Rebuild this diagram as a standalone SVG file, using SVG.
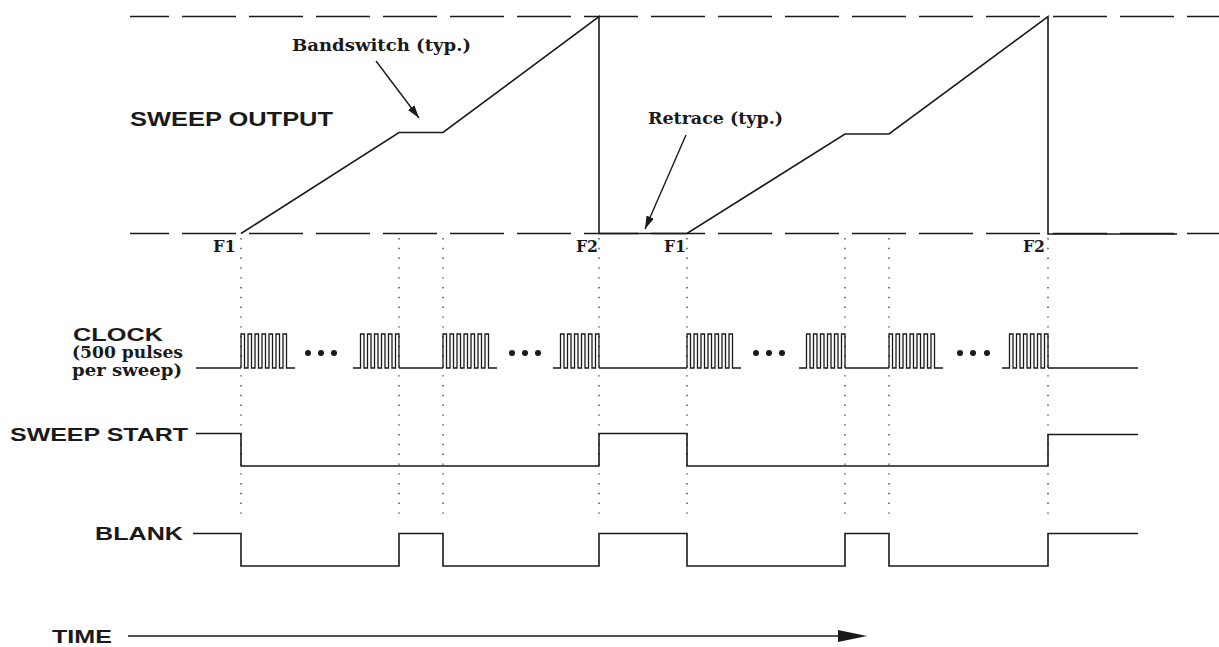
<svg xmlns="http://www.w3.org/2000/svg" width="1219" height="647" viewBox="0 0 1219 647">
<style>
.sig{fill:none;stroke:#1a1a1a;stroke-width:1.6;stroke-linejoin:miter}
.clk{fill:none;stroke:#1a1a1a;stroke-width:1.3;stroke-linejoin:miter}
.dash{fill:none;stroke:#1a1a1a;stroke-width:1.6;stroke-dasharray:54 13;stroke-dashoffset:15}
.dot{fill:none;stroke:#444;stroke-width:1.4;stroke-dasharray:1.4 8.4}
.lab{font-family:"Liberation Sans",Arial,sans-serif;font-weight:bold;fill:#1a1a1a}
.ser{font-family:"DejaVu Serif","Liberation Serif",serif;font-weight:bold;fill:#1a1a1a}
.ann{fill:none;stroke:#1a1a1a;stroke-width:1.4}
</style>
<defs>
<marker id="ah" markerUnits="userSpaceOnUse" markerWidth="14" markerHeight="8" refX="13" refY="4" orient="auto">
<path d="M0,0 L13,4 L0,8 z" fill="#1a1a1a"/>
</marker>
<path id="burstA" d="M0,34 V0 H3.5 V34 H7 V0 H10.5 V34 H14 V0 H17.5 V34 H21 V0 H24.5 V34 H28 V0 H31.5 V34 H35 V0 H38.5 V34 H42 V0 H45.5 V34 H54"/>
<path id="burstB" d="M-46,34 H-38.5 V0 H-35 V34 H-31.5 V0 H-28 V34 H-24.5 V0 H-21 V34 H-17.5 V0 H-14 V34 H-10.5 V0 H-7 V34 H-3.5 V0 H0 V34"/>
</defs>
<rect width="1219" height="647" fill="#fff"/>

<g id="gridlines">
<line class="dot" x1="241" y1="238" x2="241" y2="518"/>
<line class="dot" x1="399" y1="238" x2="399" y2="518"/>
<line class="dot" x1="443" y1="238" x2="443" y2="518"/>
<line class="dot" x1="599" y1="238" x2="599" y2="518"/>
<line class="dot" x1="687" y1="238" x2="687" y2="518"/>
<line class="dot" x1="845" y1="238" x2="845" y2="518"/>
<line class="dot" x1="889" y1="238" x2="889" y2="518"/>
<line class="dot" x1="1048" y1="238" x2="1048" y2="518"/>
</g>

<g id="sweep-output">
<line class="dash" x1="130" y1="16.5" x2="1219" y2="16.5"/>
<line class="dash" x1="130" y1="233.5" x2="1219" y2="233.5"/>
<path class="sig" d="M241,233.5 L399,132.5 H443 L599,16.5 V233.5 H687 L845,134 H889 L1048,16.5 V234 H1177"/>
<text class="lab" x="130" y="125.5" font-size="21" textLength="203" lengthAdjust="spacingAndGlyphs">SWEEP OUTPUT</text>
<text class="ser" x="292" y="51" font-size="17" textLength="179" lengthAdjust="spacingAndGlyphs">Bandswitch (typ.)</text>
<text class="ser" x="648" y="124" font-size="17" textLength="135" lengthAdjust="spacingAndGlyphs">Retrace (typ.)</text>
<text class="ser" x="213" y="252" font-size="16" textLength="23" lengthAdjust="spacingAndGlyphs">F1</text>
<text class="ser" x="576" y="252" font-size="16" textLength="22" lengthAdjust="spacingAndGlyphs">F2</text>
<text class="ser" x="664" y="252" font-size="16" textLength="22" lengthAdjust="spacingAndGlyphs">F1</text>
<text class="ser" x="1023" y="252" font-size="16" textLength="22" lengthAdjust="spacingAndGlyphs">F2</text>
</g>

<g id="annotations">
<line class="ann" x1="376" y1="61" x2="419" y2="118" marker-end="url(#ah)"/>
<line class="ann" x1="686" y1="135" x2="645" y2="229" marker-end="url(#ah)"/>
</g>

<g id="clock">
<text class="lab" x="73" y="340.5" font-size="17.5" textLength="90" lengthAdjust="spacingAndGlyphs">CLOCK</text>
<text class="ser" x="72" y="358" font-size="16" textLength="111" lengthAdjust="spacingAndGlyphs">(500 pulses</text>
<text class="ser" x="72" y="376" font-size="16" textLength="110" lengthAdjust="spacingAndGlyphs">per sweep)</text>
<path class="sig" d="M196,368 H241 M399,368 H443 M599,368 H687 M845,368 H889 M1048,368 H1138"/>
<use class="clk" href="#burstA" transform="translate(241,334)"/>
<use class="clk" href="#burstA" transform="translate(443,334)"/>
<use class="clk" href="#burstA" transform="translate(687,334)"/>
<use class="clk" href="#burstA" transform="translate(889,334)"/>
<use class="clk" href="#burstB" transform="translate(399,334)"/>
<use class="clk" href="#burstB" transform="translate(599,334)"/>
<use class="clk" href="#burstB" transform="translate(845,334)"/>
<use class="clk" href="#burstB" transform="translate(1048,334)"/>
<g fill="#1a1a1a">
<circle cx="308" cy="353" r="3"/><circle cx="321" cy="353" r="3"/><circle cx="334" cy="353" r="3"/>
<circle cx="512" cy="353" r="3"/><circle cx="525" cy="353" r="3"/><circle cx="538" cy="353" r="3"/>
<circle cx="756" cy="353" r="3"/><circle cx="769" cy="353" r="3"/><circle cx="782" cy="353" r="3"/>
<circle cx="960" cy="353" r="3"/><circle cx="973" cy="353" r="3"/><circle cx="987" cy="353" r="3"/>
</g>
</g>

<g id="sweep-start">
<text class="lab" x="10" y="441" font-size="18.5" textLength="178" lengthAdjust="spacingAndGlyphs">SWEEP START</text>
<path class="sig" d="M196,433.5 H241 V466 H599 V433.5 H687 V466 H1048 V434.5 H1138"/>
</g>

<g id="blank">
<text class="lab" x="95" y="540" font-size="18.5" textLength="88" lengthAdjust="spacingAndGlyphs">BLANK</text>
<path class="sig" d="M193,533.5 H241 V566 H399 V533.5 H443 V566 H599 V533.5 H687 V566 H845 V533.5 H889 V566 H1048 V533.5 H1138"/>
</g>

<g id="time">
<text class="lab" x="52" y="643" font-size="18.5" textLength="60" lengthAdjust="spacingAndGlyphs">TIME</text>
<line class="sig" x1="128" y1="636" x2="842" y2="636"/>
<path d="M838,630 L867,636 L838,642 z" fill="#1a1a1a"/>
</g>
</svg>
